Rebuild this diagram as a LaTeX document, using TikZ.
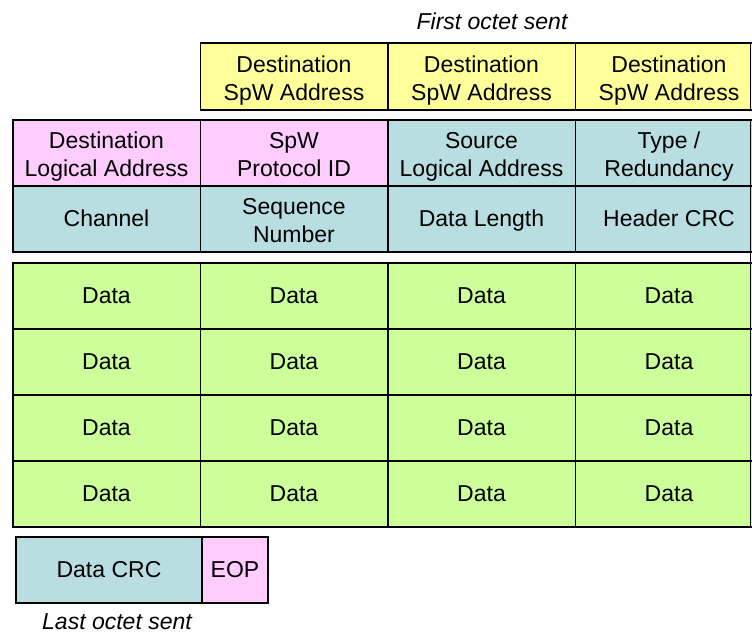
\documentclass[tikz,border=0pt]{standalone}
\usepackage{fontspec}
\setmainfont{Liberation Sans}
\definecolor{addryellow}{HTML}{FFFF99}
\definecolor{hdrpink}{HTML}{FFCCFF}
\definecolor{hdrblue}{HTML}{B8DEE2}
\definecolor{datagreen}{HTML}{CCFF99}
\newcommand\cellstrut{\rule[-0.212em]{0pt}{1.117em}}
\newcommand\toprule{\rule{0pt}{1.05em}}
\tikzset{
  cell/.style={draw=black, line width=1.5pt, minimum width=187.5pt, minimum height=66pt,
    inner sep=0pt, align=center, font=\fontsize{23}{28}\selectfont},
  octet/.style={font=\fontsize{23}{28}\selectfont\itshape}
}
\begin{document}
\begin{tikzpicture}[x=1pt,y=-1pt]
\useasboundingbox (0,0) rectangle (752,635);
% destination SpW addresses
\node[cell, fill=addryellow, minimum height=67pt] (dsa1) at (294,76.5) {\toprule Destination\\SpW Address\cellstrut};
\node[cell, fill=addryellow, minimum height=67pt] (dsa2) at (481.5,76.5) {\toprule Destination\\SpW Address\cellstrut};
\node[cell, fill=addryellow, minimum height=67pt] (dsa3) at (669,76.5) {\toprule Destination\\SpW Address\cellstrut};
\node[octet] (first) at (492,21) {First octet sent};
% header
\node[cell, fill=hdrpink] (dla) at (106.5,153) {\toprule Destination\\Logical Address\cellstrut};
\node[cell, fill=hdrpink] (pid) at (294,153) {\toprule SpW\\Protocol ID\cellstrut};
\node[cell, fill=hdrblue] (sla) at (481.5,153) {\toprule Source\\Logical Address\cellstrut};
\node[cell, fill=hdrblue] (type) at (669,153) {\toprule Type /\\Redundancy\cellstrut};
\node[cell, fill=hdrblue] (chan) at (106.5,219) {\cellstrut Channel};
\node[cell, fill=hdrblue] (seq) at (294,219) {\toprule Sequence\\Number\cellstrut};
\node[cell, fill=hdrblue] (len) at (481.5,219) {\cellstrut Data Length};
\node[cell, fill=hdrblue] (hcrc) at (669,219) {\cellstrut Header CRC};
% data
\foreach \r/\y in {1/296,2/362,3/428,4/494}
  \foreach \c/\x in {1/106.5,2/294,3/481.5,4/669}
    \node[cell, fill=datagreen] (data\r\c) at (\x,\y) {\cellstrut Data};
% right edge of the table
\draw[line width=1.5pt] (750.5,43) -- (750.5,110);
\draw[line width=1.5pt] (750.5,120) -- (750.5,527);
% trailer
\node[cell, fill=hdrblue, minimum width=186pt] (dcrc) at (109,570) {\cellstrut Data CRC};
\node[cell, fill=hdrpink, minimum width=66pt] (eop) at (235,570) {\cellstrut EOP};
\node[octet] (last) at (117,622) {Last octet sent};
\end{tikzpicture}
\end{document}
